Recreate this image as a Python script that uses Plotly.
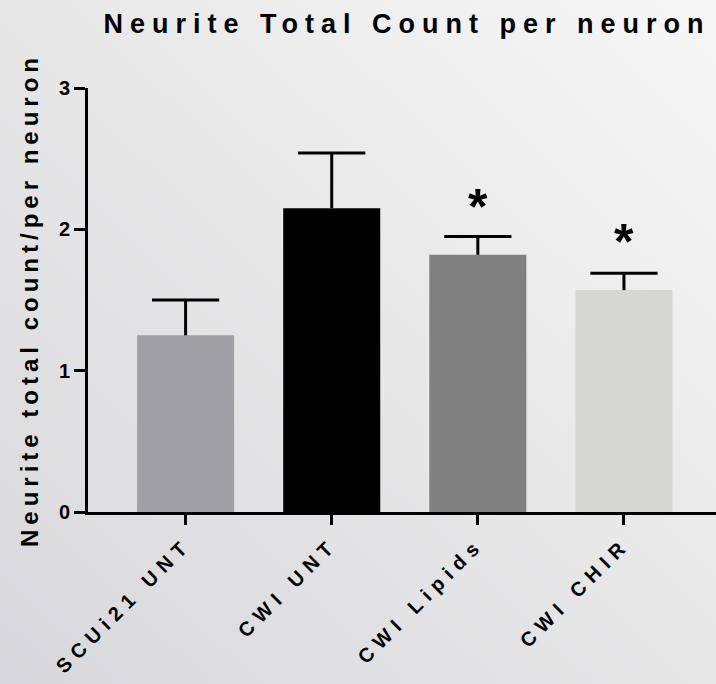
import base64
import plotly.graph_objects as go

# ---- data ----
categories = ["SCUi21 UNT", "CWI UNT", "CWI Lipids", "CWI CHIR"]
means = [1.25, 2.15, 1.82, 1.57]
sem = [0.25, 0.39, 0.13, 0.12]
sig_marks = ["", "", "*", "*"]
sig_y = [None, None, 2.16, 1.91]
bar_colors = ["#a09fa4", "#000000", "#808080", "#d6d6d4"]
y_ticks = [0, 1, 2, 3]

FONT = "Liberation Sans Narrow, Arial Narrow, Liberation Sans, Arial, sans-serif"

W, H = 716, 684
ML, MR, MT, MB = 88, 0, 88, 172
PW, PH = W - ML - MR, H - MT - MB

fig = go.Figure()
fig.add_trace(go.Bar(
    x=categories, y=means, width=0.664,
    marker=dict(color=bar_colors, line=dict(width=0)),
    error_y=dict(type="data", array=sem, symmetric=False,
                 arrayminus=[0] * len(sem), color="black",
                 thickness=3, width=0),
    hoverinfo="skip", showlegend=False,
))
# top caps of the error bars
fig.add_trace(go.Scatter(
    x=categories, y=[m + s for m, s in zip(means, sem)], mode="markers",
    marker=dict(symbol="line-ew", size=48, color="black",
                line=dict(width=3, color="black")),
    hoverinfo="skip", showlegend=False,
))

for c, m, yy in zip(categories, sig_marks, sig_y):
    if m:
        fig.add_annotation(x=c, y=yy, text=m, showarrow=False,
                           xref="x", yref="y", yanchor="middle",
                           font=dict(family="Liberation Sans, Arial", size=50,
                                     color="black", weight="bold"))

# gradient background as an inline SVG image
svg = ('<svg xmlns="http://www.w3.org/2000/svg" width="716" height="684">'
       '<defs><linearGradient id="g" x1="0" y1="1" x2="1" y2="0">'
       '<stop offset="0" stop-color="#d8d8dc"/>'
       '<stop offset="0.5" stop-color="#e7e7e8"/>'
       '<stop offset="1" stop-color="#f7f7f7"/>'
       '</linearGradient></defs>'
       '<rect width="716" height="684" fill="url(#g)"/></svg>')
src = "data:image/svg+xml;base64," + base64.b64encode(svg.encode()).decode()
fig.add_layout_image(dict(source=src, xref="paper", yref="paper",
                          x=-ML / PW, y=1 + MT / PH, sizex=W / PW, sizey=H / PH,
                          xanchor="left", yanchor="top", sizing="stretch",
                          layer="below"))

fig.update_layout(
    width=W, height=H,
    margin=dict(l=ML, r=MR, t=MT, b=MB, autoexpand=False),
    paper_bgcolor="#e6e6e8", plot_bgcolor="rgba(0,0,0,0)",
    title=dict(text="Neurite Total Count per neuron", x=0.508, xref="paper",
               y=1 - 33 / H, yanchor="bottom", yref="container",
               font=dict(family=FONT, size=27, color="black", weight="bold")),
    font=dict(family=FONT, color="black"),
    bargap=0.3,
)
fig.update_xaxes(
    range=[-0.668, 3.63], showline=True, linewidth=3, linecolor="black",
    ticks="outside", ticklen=10, tickwidth=3, tickcolor="black",
    tickangle=-45, showgrid=False, zeroline=False,
    tickfont=dict(family=FONT, size=20, color="black", weight="bold"),
    automargin=False,
)
fig.update_yaxes(
    range=[0, 3], tickvals=y_ticks, showline=True, linewidth=3,
    linecolor="black", ticks="outside", ticklen=11, tickwidth=3,
    tickcolor="black", showgrid=False, zeroline=False,
    tickfont=dict(family="Liberation Sans, Arial", size=20, color="black",
                  weight="bold"),
    title=dict(text="Neurite total count/per neuron", standoff=14,
               font=dict(family=FONT, size=24, color="black", weight="bold")),
    automargin=False,
)

post = """
document.body.style.margin='0';
document.body.style.padding='0';
var gd = document.getElementById('{plot_id}');
function spacing(){
  gd.querySelectorAll('.gtitle').forEach(function(e){e.style.letterSpacing='7px';});
  gd.querySelectorAll('.ytitle').forEach(function(e){e.style.letterSpacing='5px';});
  gd.querySelectorAll('.xtick text').forEach(function(e){e.style.letterSpacing='6.5px';});
}
spacing();
gd.on('plotly_afterplot', spacing);
"""
fig.write_html("out.html", post_script=post,
               config={"displayModeBar": False, "staticPlot": True})
